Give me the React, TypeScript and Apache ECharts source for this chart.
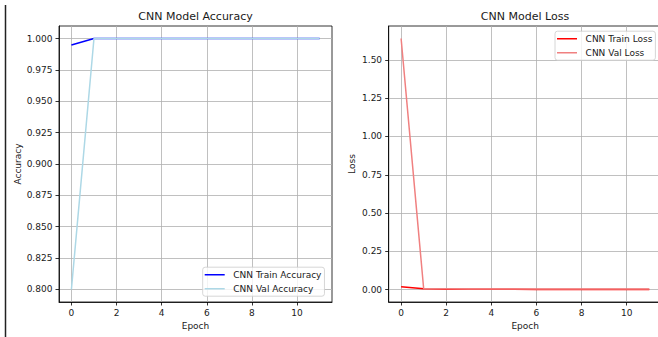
import React, { useEffect, useRef } from "react";
import * as echarts from "echarts";

const epochs = [0, 1, 2, 3, 4, 5, 6, 7, 8, 9, 10, 11];
const cnnTrainAccuracy = [0.9948, 1.0, 1.0, 1.0, 1.0, 1.0, 1.0, 1.0, 1.0, 1.0, 1.0, 1.0];
const cnnValAccuracy = [0.8, 1.0, 1.0, 1.0, 1.0, 1.0, 1.0, 1.0, 1.0, 1.0, 1.0, 1.0];
const cnnTrainLoss = [0.018, 0.0045, 0.0025, 0.0018, 0.0014, 0.0012, 0.001, 0.0009, 0.0008, 0.0007, 0.0006, 0.0006];
const cnnValLoss = [1.64, 0.005, 0.0045, 0.004, 0.004, 0.0035, 0.0035, 0.0035, 0.003, 0.003, 0.003, 0.003];

const epochTicks = [0, 2, 4, 6, 8, 10];
const accuracyTicks = [0.8, 0.825, 0.85, 0.875, 0.9, 0.925, 0.95, 0.975, 1.0];
const lossTicks = [0, 0.25, 0.5, 0.75, 1.0, 1.25, 1.5];

const FONT = "DejaVu Sans";

function padRange(values: number[]) {
  const lo = Math.min(...values);
  const hi = Math.max(...values);
  const p = (hi - lo) * 0.05;
  return [lo - p, hi + p];
}

export default function App() {
  const ref = useRef<HTMLDivElement>(null);

  useEffect(() => {
    if (!ref.current) return;
    const chart = echarts.init(ref.current, undefined, { renderer: "svg" });

    const [xMin, xMax] = padRange(epochs);
    const [accMin, accMax] = padRange([...cnnTrainAccuracy, ...cnnValAccuracy]);
    const [lossMin, lossMax] = padRange([...cnnTrainLoss, ...cnnValLoss]);

    const textBase = { fontFamily: FONT, fontSize: 9, fontWeight: "normal", color: "#1a1a1a", lineHeight: 11 };

    const makeX = (gridIndex: number) => ({
      type: "value",
      gridIndex,
      min: xMin,
      max: xMax,
      name: "Epoch",
      nameLocation: "middle",
      nameGap: 18.5,
      nameMoveOverlap: false,
      nameTextStyle: textBase,
      axisLine: { show: true, onZero: false, lineStyle: { color: "#000", width: 0.8 } },
      axisTick: { show: true, length: 3.5, customValues: epochTicks, lineStyle: { color: "#000", width: 0.8 } },
      axisLabel: {
        ...textBase,
        margin: 5.2,
        customValues: epochTicks,
        formatter: (v: number) => String(Math.round(v)),
      },
      splitLine: { show: true, lineStyle: { color: "#b0b0b0", width: 0.8 } },
    });

    const makeY = (
      gridIndex: number,
      min: number,
      max: number,
      ticks: number[],
      name: string,
      nameGap: number,
      digits: number
    ) => ({
      type: "value",
      gridIndex,
      min,
      max,
      name,
      nameLocation: "middle",
      nameGap,
      nameMoveOverlap: false,
      nameTextStyle: textBase,
      axisLine: { show: true, onZero: false, lineStyle: { color: "#000", width: 0.8 } },
      axisTick: { show: true, length: 3.5, customValues: ticks, lineStyle: { color: "#000", width: 0.8 } },
      axisLabel: {
        ...textBase,
        margin: 6.6,
        customValues: ticks,
        formatter: (v: number) => v.toFixed(digits),
      },
      splitLine: { show: true, lineStyle: { color: "#b0b0b0", width: 0.8 } },
    });

    const legendBase = {
      orient: "vertical",
      padding: [2.5, 3, 2.5, 2],
      itemGap: 4,
      itemWidth: 23.6,
      itemHeight: 1.5,
      icon: "path://M0,0H20V1.5H0ZM23.6,1.5Z",
      itemStyle: { borderWidth: 0 },
      selectedMode: false,
      backgroundColor: "rgba(255,255,255,0.8)",
      borderColor: "#cccccc",
      borderWidth: 0.8,
      borderRadius: 2.5,
      textStyle: { fontFamily: FONT, fontSize: 9, fontWeight: "normal", color: "#1a1a1a", lineHeight: 10 },
    };

    const line = (name: string, xi: number, ys: number[], color: string) => ({
      type: "line",
      name,
      xAxisIndex: xi,
      yAxisIndex: xi,
      data: epochs.map((e, i) => [e, ys[i]]),
      showSymbol: false,
      symbol: "none",
      lineStyle: { color, width: 1.5 },
      itemStyle: { color },
      z: 3,
    });

    chart.setOption({
      animation: false,
      backgroundColor: "#fff",
      grid: [
        { left: 59, top: 26, width: 273, height: 276, show: true, borderColor: "#000", borderWidth: 0.8, containLabel: false, outerBoundsMode: "none" },
        { left: 388.7, top: 26, width: 273, height: 276, show: true, borderColor: "#000", borderWidth: 0.8, containLabel: false, outerBoundsMode: "none" },
      ],
      xAxis: [makeX(0), makeX(1)],
      yAxis: [
        makeY(0, accMin, accMax, accuracyTicks, "Accuracy", 35.5, 3),
        makeY(1, lossMin, lossMax, lossTicks, "Loss", 31.2, 2),
      ],
      legend: [
        { ...legendBase, data: ["CNN Train Accuracy", "CNN Val Accuracy"], left: 202.7, top: 267.2 },
        { ...legendBase, data: ["CNN Train Loss", "CNN Val Loss"], left: 555, top: 31.2 },
      ],
      series: [
        line("CNN Train Accuracy", 0, cnnTrainAccuracy, "#0000ff"),
        line("CNN Val Accuracy", 0, cnnValAccuracy, "#add8e6"),
        line("CNN Train Loss", 1, cnnTrainLoss, "#ff0000"),
        line("CNN Val Loss", 1, cnnValLoss, "#f08080"),
      ],
      graphic: [
        {
          type: "line",
          shape: { x1: 5.5, y1: 5, x2: 5.5, y2: 337 },
          style: { stroke: "#222", lineWidth: 1.5 },
        },
        {
          type: "text",
          x: 195.5,
          y: 16,
          style: { text: "CNN Model Accuracy", fontFamily: FONT, fontSize: 11, fontWeight: "normal", fill: "#1a1a1a", align: "center", verticalAlign: "middle" },
        },
        {
          type: "text",
          x: 525,
          y: 16,
          style: { text: "CNN Model Loss", fontFamily: FONT, fontSize: 11, fontWeight: "normal", fill: "#1a1a1a", align: "center", verticalAlign: "middle" },
        },
      ],
    });

    return () => chart.dispose();
  }, []);

  return (
    <div
      ref={ref}
      style={{ position: "fixed", left: 0, top: 0, width: 658, height: 337, background: "#fff" }}
    />
  );
}
